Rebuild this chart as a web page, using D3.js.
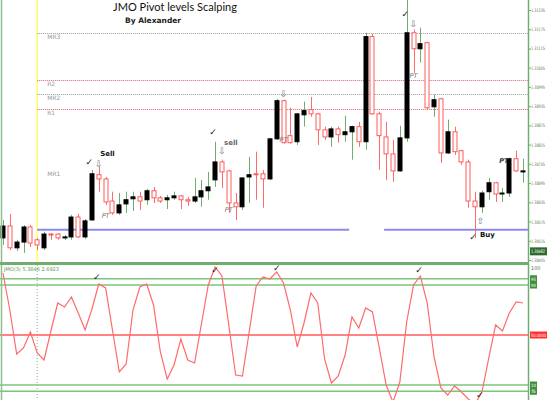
<!DOCTYPE html>
<html>
<head>
<meta charset="utf-8">
<script src="https://cdn.jsdelivr.net/npm/d3@7"></script>
<style>
body { margin: 0; background: #fff; }
svg { display: block; font-family: 'DejaVu Sans', sans-serif; }
</style>
</head>
<body>
<svg id="svg" width="550" height="400"></svg>
<script>
// bars (one per candle, left to right)
const openP = [1.30524,1.30561,1.30493,1.30511,1.30558,1.30518,1.30493,1.30536,1.30536,1.30524,
  1.30527,1.30589,1.30527,1.30580,1.30721,1.30708,1.30639,1.30602,1.30630,1.30646,
  1.30652,1.30643,1.30671,1.30649,1.30643,1.30649,1.30655,1.30643,1.30639,1.30652,
  1.30671,1.30705,1.30761,1.30733,1.30633,1.30621,1.30714,1.30724,1.30724,1.30708,
  1.30833,1.30952,1.30843,1.30824,1.30908,1.30924,1.30911,1.30861,1.30839,1.30864,
  1.30846,1.30855,1.30871,1.30824,1.31152,1.30911,1.30839,1.30786,1.30733,1.30836,
  1.31164,1.31114,1.31133,1.30933,1.30958,1.30789,1.30855,1.30796,1.30761,1.30639,
  1.30621,1.30668,1.30696,1.30661,1.30664,1.30771,1.30730];
const highP = [1.30580,1.30599,1.30518,1.30564,1.30564,1.30524,1.30543,1.30539,1.30539,1.30533,
  1.30596,1.30599,1.30583,1.30736,1.30746,1.30714,1.30668,1.30664,1.30668,1.30668,
  1.30668,1.30677,1.30683,1.30655,1.30658,1.30668,1.30658,1.30652,1.30711,1.30705,
  1.30730,1.30824,1.30768,1.30736,1.30664,1.30714,1.30777,1.30793,1.30736,1.30836,
  1.30958,1.30955,1.30930,1.30914,1.30949,1.30964,1.30914,1.30871,1.30871,1.30871,
  1.30905,1.30874,1.30886,1.31164,1.31161,1.30918,1.30886,1.30830,1.30874,1.31268,
  1.31174,1.31180,1.31136,1.30971,1.30961,1.30893,1.30871,1.30799,1.30768,1.30668,
  1.30671,1.30711,1.30699,1.30680,1.30774,1.30796,1.30771];
const lowP = [1.30502,1.30486,1.30483,1.30477,1.30496,1.30486,1.30486,1.30518,1.30518,1.30518,
  1.30518,1.30524,1.30521,1.30577,1.30668,1.30627,1.30596,1.30596,1.30602,1.30608,
  1.30611,1.30627,1.30633,1.30633,1.30614,1.30643,1.30614,1.30624,1.30633,1.30621,
  1.30643,1.30683,1.30680,1.30602,1.30580,1.30611,1.30633,1.30643,1.30618,1.30705,
  1.30830,1.30818,1.30818,1.30814,1.30871,1.30902,1.30814,1.30830,1.30808,1.30821,
  1.30824,1.30768,1.30808,1.30799,1.30908,1.30736,1.30705,1.30699,1.30730,1.30824,
  1.31039,1.31071,1.30924,1.30902,1.30758,1.30786,1.30783,1.30752,1.30618,1.30524,
  1.30602,1.30643,1.30636,1.30636,1.30652,1.30730,1.30696];
const closeP = [1.30561,1.30493,1.30511,1.30558,1.30508,1.30502,1.30536,1.30533,1.30524,1.30527,
  1.30589,1.30527,1.30577,1.30724,1.30708,1.30636,1.30602,1.30627,1.30643,1.30652,
  1.30639,1.30671,1.30649,1.30639,1.30649,1.30655,1.30643,1.30639,1.30652,1.30671,
  1.30683,1.30761,1.30730,1.30633,1.30621,1.30711,1.30721,1.30721,1.30708,1.30833,
  1.30952,1.30821,1.30821,1.30911,1.30921,1.30911,1.30861,1.30839,1.30864,1.30846,
  1.30855,1.30871,1.30824,1.31152,1.30911,1.30843,1.30786,1.30733,1.30836,1.31164,
  1.31114,1.31130,1.30930,1.30955,1.30789,1.30855,1.30793,1.30761,1.30639,1.30621,
  1.30664,1.30696,1.30661,1.30664,1.30771,1.30733,1.30733];

// JMO oscillator, one value per bar
const oscValues = [99.6,70,34.8,39.6,52.4,35.6,30,53.2,75.6,72.4,
  80.4,67.6,54,70.8,90.8,87.6,54,20.4,26.8,70,
  88.4,90.8,74,36.4,14.8,26,46.8,30,27.6,58.8,
  90,104.4,97.2,58,18,17.2,53.2,89.2,96.4,94.8,
  100.4,91.6,70,40.4,59.6,83.6,75.6,30.8,11.6,17.2,
  34,64.4,55.6,71.6,68.4,39.6,10,-3.6,12.4,60.4,
  90,97.2,75.6,32.4,7.6,2,9.2,4.4,-1.2,-5.2,
  4.4,31.6,58,53.2,67.6,76.4,75.6];

const priceTicks = [1.31235,1.31175,1.31115,1.31055,1.30995,1.30935,1.30875,1.30815,1.30755,1.30695,1.30635,1.30575,1.30515,1.30455];
const currentPrice = 1.30482;

const pivotNames = ['MR3', 'R2', 'MR2', 'R1', 'MR1'];
const pivotPrices = [1.31164, 1.31018, 1.30974, 1.30927, 1.30736];
const pivotKinds = ['mid', 'res', 'mid', 'res', 'none'];

const bluePrice = 1.30549;
const blueSegments = [[5, 50.6], [55.7, 78]];
const sessionBar = 5;

// signal marks: [bar, price]
const sellArrows = [[14, 1.30758], [32, 1.30799], [41, 1.30977], [60, 1.31196]];
const sellLabels = [[14.2, 1.30789, 'Sell'], [32.3, 1.30824, 'sell']];
const buyArrows = [[69.8, 1.30580]];
const buyLabels = [[69.7, 1.30536, 'Buy']];
const ptLabels = [[15, 1.30596], [33, 1.30614], [41, 1.30833], [60, 1.31033], [73.2, 1.30768]];
const priceChecks = [[12.6, 1.30761], [30.7, 1.30855], [58.8, 1.31224], [68.7, 1.30527]];
const oscChecks = [[13.7, 96.4], [31, 102], [40, 103.6], [60.8, 102], [69.7, 2]];

const oscLevels = [95, 90, 50, 10, 5];

const W = 550, H = 400;
const axisX = 528;
const mainBottom = 262;
const oscTop = 265;

let svg = d3.select('#svg');
svg.append('rect').attr('width', W).attr('height', H).attr('fill', '#fff');

var x = d3.scaleLinear().domain([0, openP.length - 1]).range([3, 523]);
var y = d3.scaleLinear().domain([1.30455, 1.31235]).range([260, 10]);
var yo = d3.scaleLinear().domain([50, 100]).range([335, 272.5]);

let defs = svg.append('defs');
defs.append('clipPath').attr('id', 'clipMain')
  .append('rect').attr('x', 0).attr('y', 0).attr('width', axisX).attr('height', mainBottom);
defs.append('clipPath').attr('id', 'clipOsc')
  .append('rect').attr('x', 0).attr('y', oscTop).attr('width', axisX).attr('height', H - oscTop);

let main = svg.append('g').attr('clip-path', 'url(#clipMain)');
let osc = svg.append('g').attr('clip-path', 'url(#clipOsc)');

// session start line
main.append('line')
  .attr('x1', x(sessionBar)).attr('x2', x(sessionBar))
  .attr('y1', 0).attr('y2', mainBottom)
  .attr('stroke', '#ffff66').attr('stroke-width', 1.5);
osc.append('line')
  .attr('x1', x(sessionBar)).attr('x2', x(sessionBar))
  .attr('y1', oscTop).attr('y2', H)
  .attr('stroke', '#77bb77').attr('stroke-dasharray', '1,2');

// pivot levels
const pivots = pivotNames.map((n, i) => ({name: n, price: pivotPrices[i], kind: pivotKinds[i]}));
main.selectAll('line.pivot')
  .data(pivots.filter(d => d.kind != 'none'))
  .enter().append('line')
  .attr('class', 'pivot')
  .attr('x1', x(sessionBar)).attr('x2', axisX)
  .attr('y1', d => Math.round(y(d.price)) + 0.5).attr('y2', d => Math.round(y(d.price)) + 0.5)
  .attr('stroke', d => d.kind == 'res' ? '#e06070' : '#999')
  .attr('stroke-dasharray', '1,1');
main.selectAll('text.pivot')
  .data(pivots)
  .enter().append('text')
  .attr('class', 'pivot')
  .attr('x', x(sessionBar) + 10)
  .attr('y', d => y(d.price) + 6)
  .attr('font-size', 6)
  .attr('fill', '#999')
  .text(d => d.name);

// blue support line
main.selectAll('line.blue')
  .data(blueSegments)
  .enter().append('line')
  .attr('class', 'blue')
  .attr('x1', d => x(d[0])).attr('x2', d => x(d[1]))
  .attr('y1', y(bluePrice)).attr('y2', y(bluePrice))
  .attr('stroke', '#8a8aee').attr('stroke-width', 2);

// candles
const candles = openP.map((o, i) => ({i: i, o: o, h: highP[i], l: lowP[i], c: closeP[i]}));
const bw = 5;
let cg = main.selectAll('g.candle')
  .data(candles)
  .enter().append('g')
  .attr('class', 'candle');
cg.append('line')
  .attr('x1', d => Math.round(x(d.i)) + 0.5).attr('x2', d => Math.round(x(d.i)) + 0.5)
  .attr('y1', d => y(d.h)).attr('y2', d => y(d.l))
  .attr('stroke', d => d.c >= d.o ? '#6fae6f' : '#ff6b6b')
  .attr('stroke-width', 1);
cg.append('rect')
  .attr('x', d => Math.round(x(d.i)) - 2)
  .attr('width', bw - 1)
  .attr('y', d => y(Math.max(d.o, d.c)))
  .attr('height', d => Math.max(1, y(Math.min(d.o, d.c)) - y(Math.max(d.o, d.c))))
  .attr('fill', d => d.c >= d.o ? '#000' : '#fff')
  .attr('stroke', d => d.c >= d.o ? '#000' : '#ff5a5a')
  .attr('stroke-width', 1);

// signal marks
main.selectAll('text.sellArrow')
  .data(sellArrows).enter().append('text')
  .attr('class', 'sellArrow')
  .attr('x', d => x(d[0])).attr('y', d => y(d[1]) + 4)
  .attr('text-anchor', 'middle').attr('font-size', 9).attr('fill', '#777')
  .text('\u21E9');
main.selectAll('text.buyArrow')
  .data(buyArrows).enter().append('text')
  .attr('class', 'buyArrow')
  .attr('x', d => x(d[0])).attr('y', d => y(d[1]) + 4)
  .attr('text-anchor', 'middle').attr('font-size', 9).attr('fill', '#777')
  .text('\u21E7');
main.selectAll('text.sig')
  .data(sellLabels.concat(buyLabels)).enter().append('text')
  .attr('class', 'sig')
  .attr('x', d => x(d[0])).attr('y', d => y(d[1]) + 3)
  .attr('font-size', 7).attr('font-weight', 'bold')
  .attr('fill', d => d[2] == 'sell' ? '#666' : '#111')
  .text(d => d[2]);
main.selectAll('text.pt')
  .data(ptLabels).enter().append('text')
  .attr('class', 'pt')
  .attr('x', d => x(d[0])).attr('y', d => y(d[1]) + 3)
  .attr('text-anchor', 'middle')
  .attr('font-size', 6.5).attr('font-style', 'italic')
  .attr('font-weight', (d, i) => i == ptLabels.length - 1 ? 'bold' : 'normal')
  .attr('fill', (d, i) => i == ptLabels.length - 1 ? '#333' : '#777')
  .text('PT');
main.selectAll('text.check')
  .data(priceChecks).enter().append('text')
  .attr('class', 'check')
  .attr('x', d => x(d[0])).attr('y', d => y(d[1]) + 3)
  .attr('text-anchor', 'middle').attr('font-size', 9).attr('fill', '#222')
  .text('\u2713');

// title
svg.append('text')
  .attr('x', 175).attr('y', 11)
  .attr('text-anchor', 'middle')
  .attr('font-size', 11)
  .attr('font-family', 'Lato, sans-serif')
  .attr('fill', '#111')
  .text('JMO Pivot levels Scalping');
svg.append('text')
  .attr('x', 125).attr('y', 23)
  .attr('font-size', 7.5).attr('font-weight', 'bold')
  .attr('fill', '#222')
  .text('By Alexander');

// oscillator panel
osc.selectAll('line.level')
  .data(oscLevels).enter().append('line')
  .attr('class', 'level')
  .attr('x1', 0).attr('x2', axisX)
  .attr('y1', d => yo(d)).attr('y2', d => yo(d))
  .attr('stroke', d => d == 50 ? '#ff5a5a' : '#7cc47c')
  .attr('stroke-width', 1.5);
osc.append('path')
  .datum(oscValues)
  .attr('fill', 'none')
  .attr('stroke', '#ff6b6b')
  .attr('stroke-width', 1.2)
  .attr('d', d3.line().x((d, i) => x(i)).y(d => yo(d)));
osc.selectAll('text.check')
  .data(oscChecks).enter().append('text')
  .attr('class', 'check')
  .attr('x', d => x(d[0])).attr('y', d => yo(d[1]) + 3)
  .attr('text-anchor', 'middle').attr('font-size', 9).attr('fill', '#222')
  .text('\u2713');
svg.append('text')
  .attr('x', 4).attr('y', 271)
  .attr('font-size', 5).attr('fill', '#5a9a5a')
  .text('JMO(3) 5.3846 2.6923');

// frame
svg.append('line').attr('x1', 1.5).attr('x2', 1.5).attr('y1', 0).attr('y2', H)
  .attr('stroke', '#8fbf8f').attr('stroke-width', 1.5);
svg.append('line').attr('x1', axisX + 0.5).attr('x2', axisX + 0.5).attr('y1', 0).attr('y2', H)
  .attr('stroke', '#6fae6f').attr('stroke-width', 1.5);
svg.append('rect').attr('x', 0).attr('y', mainBottom).attr('width', axisX).attr('height', 3)
  .attr('fill', '#6fae6f');

// price axis
let axis = svg.append('g')
  .attr('transform', 'translate(' + (axisX + 1) + ',0)')
  .call(d3.axisRight(y).tickValues(priceTicks).tickSize(2).tickFormat(d3.format('.5f')));
axis.select('.domain').remove();
axis.selectAll('line').attr('stroke', '#6fae6f');
axis.selectAll('text').attr('font-size', 4.6).attr('fill', '#557755').attr('x', 2)
  .attr('font-family', 'DejaVu Sans, sans-serif')
  .attr('textLength', 14).attr('lengthAdjust', 'spacingAndGlyphs');

svg.append('rect')
  .attr('x', axisX + 2).attr('y', y(currentPrice) - 4)
  .attr('width', 17).attr('height', 8).attr('fill', '#2f6a2f');
svg.append('text')
  .attr('x', axisX + 3).attr('y', y(currentPrice) + 2)
  .attr('font-size', 4.6).attr('fill', '#fff')
  .attr('textLength', 14).attr('lengthAdjust', 'spacingAndGlyphs')
  .text(d3.format('.5f')(currentPrice));

// oscillator level tags
let tags = svg.selectAll('g.tag')
  .data(oscLevels).enter().append('g')
  .attr('class', 'tag')
  .attr('transform', d => 'translate(' + (axisX + 2) + ',' + yo(d) + ')');
tags.append('rect')
  .attr('x', 0).attr('y', -3.5)
  .attr('width', d => d == 50 ? 17 : 7).attr('height', 7)
  .attr('fill', d => d == 50 ? '#ff3030' : '#3f8f3f');
tags.append('text')
  .attr('x', 1).attr('y', 2)
  .attr('font-size', 4.4).attr('fill', '#fff')
  .attr('textLength', d => d == 50 ? 15 : 5).attr('lengthAdjust', 'spacingAndGlyphs')
  .text(d => d == 50 ? '50.0000' : d);
svg.append('text')
  .attr('x', axisX + 3).attr('y', 270)
  .attr('font-size', 5).attr('fill', '#557755')
  .text('100');
</script>
</body>
</html>
